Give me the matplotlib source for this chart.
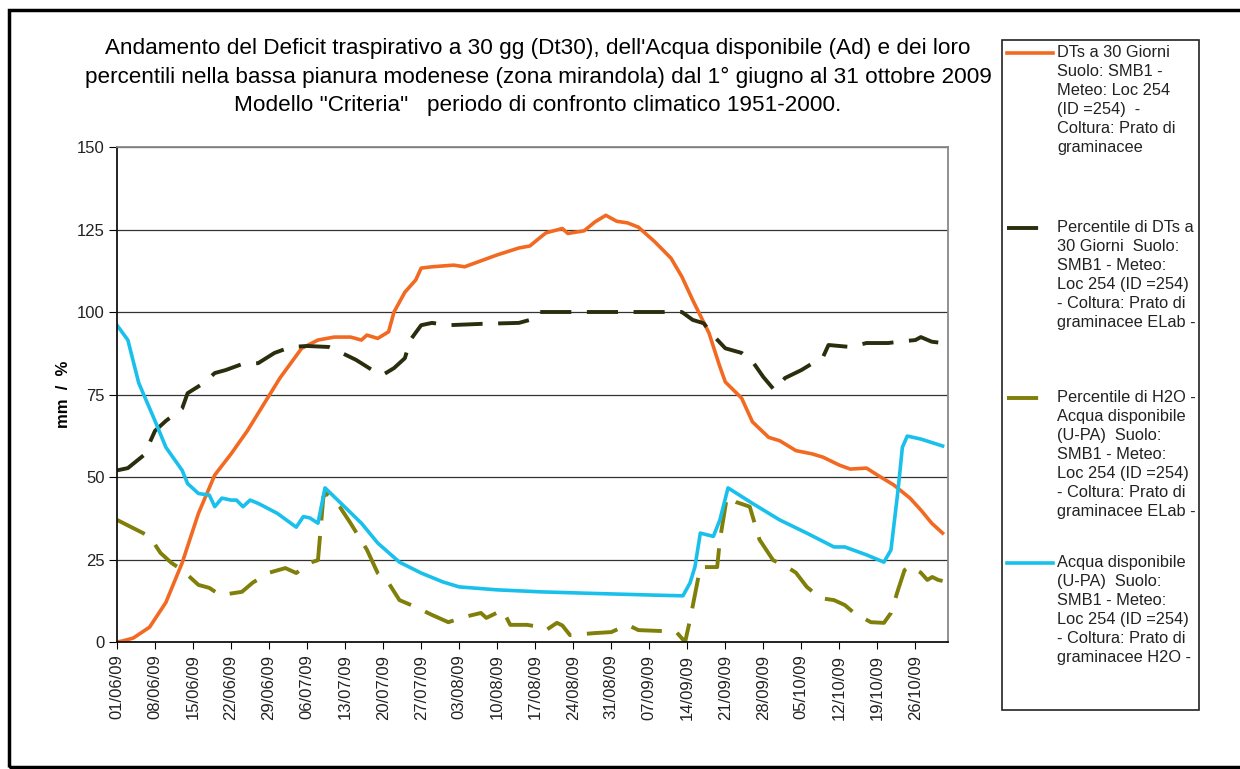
import numpy as np
import matplotlib.pyplot as plt
import matplotlib.dates as mdates
from matplotlib.lines import Line2D
from matplotlib.patches import Rectangle
import datetime as dt

plt.rcParams['font.family'] = ['Liberation Sans', 'DejaVu Sans']

start = dt.date(2009, 6, 1)

# DTs a 30 Giorni (giorni dal 01/06, valore)
dts_days = [0, 1, 3, 6, 9, 12, 15, 18, 21, 24, 27, 30, 34, 37, 40, 43, 45, 46, 48, 50, 51, 53,
            55, 56, 58, 62, 64, 67, 70, 74, 76, 78, 79, 82, 83, 86, 88, 90, 92, 94, 96, 99, 102,
            104, 106, 109, 111, 112, 115, 117, 120, 122, 125, 128, 130, 133, 135, 138, 140, 143,
            146, 148, 150, 152]
dts_vals = [0, 0.3, 1.2, 4.5, 12, 24, 39, 50.6, 57, 64, 72, 80, 89, 91.5, 92.4, 92.4, 91.5, 93,
            92, 94, 100, 106, 109.7, 113.3, 113.7, 114.2, 113.7, 115.5, 117.3, 119.4, 120, 122.7,
            124, 125.3, 123.8, 124.6, 127.3, 129.3, 127.5, 127, 125.7, 121.3, 116.3, 110.7,
            103.6, 93.6, 83.4, 78.8, 73.9, 66.7, 62, 61, 58, 57, 56, 53.6, 52.4, 52.7, 50.6,
            47.6, 43.6, 40, 36, 33]

# Percentile di DTs
pdt_days = [0, 2, 5, 7, 9, 12, 13, 16, 18, 20, 23, 26, 29, 32, 35, 39, 41, 44, 47, 49, 51, 53,
            54, 56, 58, 61, 67, 74, 76, 77, 90, 104, 106, 108, 110, 112, 115, 117, 119, 121,
            123, 126, 130, 131, 135, 138, 142, 144, 147, 148, 150, 152]
pdt_vals = [52, 52.7, 56.7, 64, 67, 70.8, 75.4, 78.5, 81.5, 82.4, 84.2, 84.5, 87.6, 89.4, 89.7,
            89.4, 87.9, 85.5, 82.4, 81, 83, 86, 91.5, 96, 96.7, 96, 96.4, 96.7, 97.6, 100, 100,
            100, 97.6, 96.6, 92.5, 89, 87.6, 85, 80.3, 76.4, 80, 82.4, 86.4, 90, 89.4, 90.6,
            90.6, 91, 91.5, 92.4, 91, 90.6]

# Percentile di H2O
ph2o_days = [0, 3, 6, 8, 10, 12, 15, 17, 19, 23, 25, 28, 31, 33, 35.5, 37, 38, 38.6, 41, 43, 46,
             48, 50, 52, 55, 58, 61, 64, 67, 68, 71, 72.4, 75.5, 78, 79, 81, 82, 83.4, 88, 91,
             94, 96, 100.6, 103, 104.6, 105.5, 107.4, 110.5, 111, 112.3, 114, 116.5, 118.3,
             120.8, 123.4, 125, 127, 129.5, 132, 134, 135.7, 138.8, 141.2, 142.5, 143.8, 145,
             146, 148, 149.2, 150.1, 151.2, 152]
ph2o_vals = [37, 34.5, 32, 27, 24, 21.8, 17.3, 16.4, 14.2, 15.2, 18, 21, 22.4, 20.9, 24, 24.8,
             44, 45, 41, 36, 28, 20.9, 17.9, 12.7, 10.6, 8.2, 6, 7.6, 8.8, 7.3, 9.7, 5.2, 5.2,
             4.5, 3.6, 5.8, 5, 2.1, 2.7, 3, 5.2, 3.6, 3.3, 3, 0, 6.7, 22.7, 22.7, 30.9, 44,
             42.4, 41, 31, 24.8, 22.7, 21, 16.7, 13.3, 12.7, 11.2, 8.8, 6, 5.8, 8.8, 15.8, 21.8,
             23, 21, 18.8, 19.7, 18.8, 18.5]

# Acqua disponibile
ad_days = [0, 2, 4, 7, 9, 12, 13, 15, 17, 18, 19.3, 21, 22, 23.2, 24.5, 26, 29.5, 33, 34.3,
           35.5, 37, 38.3, 41, 45, 48, 52, 56, 60, 63, 70, 78, 86, 99, 104.2, 105.5, 106.4,
           107.4, 109.8, 111, 112.5, 117, 122, 127, 132, 134, 138, 141.2, 142.5, 143.8, 144.6,
           145.5, 148, 152]
ad_vals = [96, 91.5, 78.5, 67, 59, 52, 48, 45, 44.5, 41, 43.6, 43, 43, 41, 43, 42, 39, 34.8, 38,
           37.6, 36, 46.7, 42.4, 36, 30, 24.2, 20.9, 18.2, 16.7, 15.8, 15.2, 14.8, 14.2, 14,
           17.9, 22.7, 33, 32, 37, 46.7, 42, 37, 33, 28.8, 28.8, 26.4, 24.2, 27.9, 46, 59, 62.4,
           61.5, 59.4]

labels = [
    "DTs a 30 Giorni\nSuolo: SMB1 -\nMeteo: Loc 254\n(ID =254)  -\nColtura: Prato di\ngraminacee",
    "Percentile di DTs a\n30 Giorni  Suolo:\nSMB1 - Meteo:\nLoc 254 (ID =254)\n- Coltura: Prato di\ngraminacee ELab -",
    "Percentile di H2O -\nAcqua disponibile\n(U-PA)  Suolo:\nSMB1 - Meteo:\nLoc 254 (ID =254)\n- Coltura: Prato di\ngraminacee ELab -",
    "Acqua disponibile\n(U-PA)  Suolo:\nSMB1 - Meteo:\nLoc 254 (ID =254)\n- Coltura: Prato di\ngraminacee H2O -",
]


def to_dates(days):
    return [mdates.date2num(start) + d for d in days]


fig = plt.figure(figsize=(12.4, 7.69), dpi=100)
W, H = 1240, 769
ax = fig.add_axes([117 / W, 1 - 642 / H, (948 - 117) / W, (642 - 147) / H])

styles = [
    (dts_days, dts_vals, dict(color='#f26a21', lw=2.6, ls='-')),
    (pdt_days, pdt_vals, dict(color='#2b2d0f', lw=2.8, ls=(0, (8, 4)))),
    (ph2o_days, ph2o_vals, dict(color='#7f7f0a', lw=2.8, ls=(0, (8, 4)))),
    (ad_days, ad_vals, dict(color='#19c0ec', lw=2.6, ls='-')),
]
for d, v, st in styles:
    ax.plot(to_dates(d), v, **st)

x0 = mdates.date2num(start)
ax.set_xlim(x0, x0 + 153)
ax.set_ylim(0, 150)
ax.set_yticks(np.arange(0, 151, 25))
ax.set_xticks([x0 + 7 * i for i in range(22)])
ax.xaxis.set_major_formatter(mdates.DateFormatter('%d/%m/%y'))
ax.tick_params(axis='x', rotation=90, labelsize=12, direction='out', length=5, pad=4,
               labelcolor='#222222')
ax.tick_params(axis='y', labelsize=12, direction='out', length=6, pad=3, labelcolor='#222222')
ax.grid(axis='y', color='#333333', lw=0.9)
ax.set_axisbelow(True)
for s in ['top', 'right']:
    ax.spines[s].set_color('#888888')
    ax.spines[s].set_linewidth(1.3)
for s in ['left', 'bottom']:
    ax.spines[s].set_color('#111111')
    ax.spines[s].set_linewidth(1.3)
ax.set_ylabel('mm  /  %', fontsize=12, fontweight='bold', labelpad=4)

fig.text(538 / W, 1 - 77 / H,
         "Andamento del Deficit traspirativo a 30 gg (Dt30), dell'Acqua disponibile (Ad) e dei loro\n"
         "percentili nella bassa pianura modenese (zona mirandola) dal 1° giugno al 31 ottobre 2009\n"
         "Modello \"Criteria\"   periodo di confronto climatico 1951-2000.",
         ha='center', va='center', fontsize=16.2, linespacing=1.45)

# outer frame
fig.add_artist(Rectangle((9 / W, 1 - 767 / H), 1.2, (767 - 10) / H, transform=fig.transFigure,
                         fill=False, ec='black', lw=2.5))

# legend box
fig.add_artist(Rectangle((1002 / W, 1 - 710 / H), (1199 - 1002) / W, (710 - 40) / H,
                         transform=fig.transFigure, fill=False, ec='#222222', lw=1.2))
entry_lines = [53, 228, 398, 563]
for (d, v, st), lab, yl in zip(styles, labels, entry_lines):
    yf = 1 - yl / H
    fig.add_artist(Line2D([1007 / W, 1053 / W], [yf, yf], transform=fig.transFigure, **st))
    fig.text(1057 / W, 1 - (yl - 8) / H, lab, ha='left', va='top', fontsize=11.8,
             linespacing=1.33, color='#222222')

fig.savefig('out.png', dpi=100)
